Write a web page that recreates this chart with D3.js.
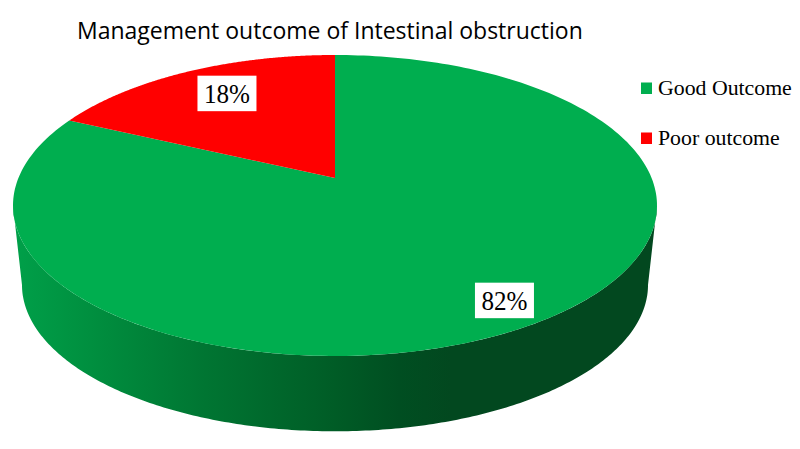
<!DOCTYPE html>
<html>
<head>
<meta charset="utf-8">
<script src="https://cdn.jsdelivr.net/npm/d3@7"></script>
<style>
html, body { margin: 0; padding: 0; background: #fff; overflow: hidden; }
</style>
</head>
<body>
<svg id="chart" width="800" height="449"></svg>
<script>
var chartTitle = "Management outcome of Intestinal obstruction";
var categories = ["Good Outcome", "Poor outcome"];
var values = [82, 18];
var labels = ["82%", "18%"];
var colors = ["#00ae4f", "#ff0000"];

var svg = d3.select("#chart");

// Perspective pie: the unit circle is projected so its centre falls behind the ellipse centre.
var cx = 335, rimTop = 55, apex = 178, rimBottom = 356, halfWidth = 322;
var C = (2 * apex - rimTop - rimBottom) / (rimBottom - rimTop);
var A = rimBottom * (1 + C) - apex;
var K = halfWidth * Math.sqrt(1 - C * C);
var midY = (rimTop + rimBottom) / 2;

function project(angle, r) {
	var x = r * Math.sin(angle), t = -r * Math.cos(angle);
	var w = 1 + C * t;
	return [cx + K * x / w, (A * t + apex) / w];
}

// Base of the cylinder is the same rim, a little smaller and lower.
var baseScale = 313 / 322, baseY = 285;
function projectBase(angle) {
	var p = project(angle, 1);
	return [cx + (p[0] - cx) * baseScale, baseY + (p[1] - midY) * baseScale];
}

function rim(a0, a1) {
	return d3.range(0, 241).map(function(i) { return a0 + (a1 - a0) * i / 240; });
}

var line = d3.line();
var pie = d3.pie().sort(null).value(function(d) { return d; });
var arcs = pie(values);

// Side wall gradient
var grad = svg.append("defs").append("linearGradient").attr("id", "wall")
	.attr("gradientUnits", "userSpaceOnUse")
	.attr("x1", 13).attr("x2", 657).attr("y1", 0).attr("y2", 0);
[[0, "#00a049"], [0.12, "#008f3f"], [0.3, "#007532"], [0.5, "#005c26"], [0.6, "#004e21"], [0.68, "#02481f"], [1, "#02481f"]]
	.forEach(function(s) {
		grad.append("stop").attr("offset", s[0]).attr("stop-color", s[1]);
	});

var turn = Math.acos(C);  // where the rim is widest
var wallTop = rim(turn, 2 * Math.PI - turn).map(function(a) { return project(a, 1); });
var wallBase = rim(2 * Math.PI - turn, turn).map(projectBase);
svg.append("path")
	.attr("d", line(wallTop.concat(wallBase)) + "Z")
	.attr("fill", "url(#wall)");

// Slices
svg.selectAll("path.slice").data(arcs).enter().append("path")
	.attr("class", "slice")
	.attr("fill", function(d, i) { return colors[i]; })
	.attr("d", function(d) {
		var pts = rim(d.startAngle, d.endAngle).map(function(a) { return project(a, 1); });
		pts.push(project(0, 0));
		return line(pts) + "Z";
	});

// Value labels on white boxes
var labelRadius = [0.87, 0.75], labelNudge = [[-1, -1], [6, -2]];
var boxW = 59, boxH = 35.5;
var lab = svg.selectAll("g.lab").data(arcs).enter().append("g")
	.attr("class", "lab")
	.attr("transform", function(d, i) {
		var p = project((d.startAngle + d.endAngle) / 2, labelRadius[i]);
		return "translate(" + (p[0] + labelNudge[i][0]) + "," + (p[1] + labelNudge[i][1]) + ")";
	});
lab.append("rect")
	.attr("x", -boxW / 2).attr("y", -boxH / 2)
	.attr("width", boxW).attr("height", boxH)
	.attr("fill", "#fff");
lab.append("text")
	.attr("text-anchor", "middle").attr("y", 9.5)
	.attr("transform", "scale(0.93,1)")
	.attr("font-family", "'Liberation Serif', serif").attr("font-size", 27)
	.attr("fill", "#000")
	.text(function(d, i) { return labels[i]; });

// Title
svg.append("text")
	.attr("x", 77).attr("y", 39)
	.attr("font-family", "'Open Sans', sans-serif").attr("font-size", 23)
	.attr("fill", "#000")
	.text(chartTitle);

// Legend
var legendY = d3.scalePoint().domain(categories).range([88, 138]);
var legend = svg.selectAll("g.legend").data(categories).enter().append("g")
	.attr("class", "legend")
	.attr("transform", function(d) { return "translate(641," + legendY(d) + ")"; });
legend.append("rect")
	.attr("y", -5.5).attr("width", 11).attr("height", 11.5)
	.attr("fill", function(d, i) { return colors[i]; });
legend.append("text")
	.attr("x", 17).attr("y", 7)
	.attr("font-family", "'Liberation Serif', serif").attr("font-size", 21.8)
	.attr("fill", "#000")
	.text(function(d) { return d; });
</script>
</body>
</html>
